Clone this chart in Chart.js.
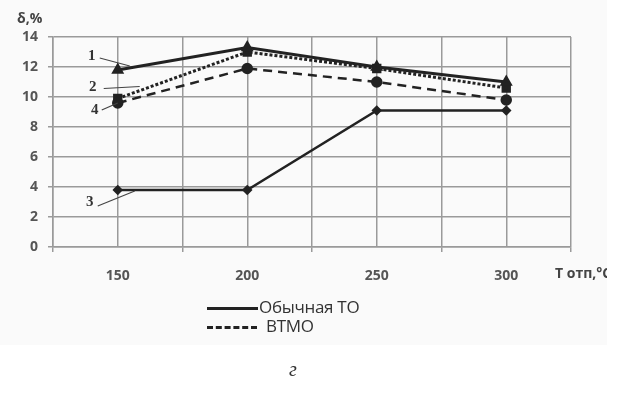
<!DOCTYPE html>
<html>
<head>
<meta charset="utf-8">
<script src="https://cdn.jsdelivr.net/npm/chart.js@4"></script>
<style>
  body { margin: 0; background: #fff; }
  #wrap { position: relative; width: 619px; height: 408px; overflow: hidden; }
  #bg { position: absolute; left: 0; top: 0; width: 607px; height: 345px; background: #fafafa; }
  canvas { position: absolute; left: 0; top: 0; }
  #cut { position: absolute; left: 607px; top: 0; width: 12px; height: 408px; background: #fff; }
  .leg { position: absolute; left: 207px; font-family: "Open Sans", sans-serif; font-size: 17px; color: #333; letter-spacing: -0.3px; line-height: 20px; }
  .leg span { display: inline-block; vertical-align: middle; width: 51px; margin-right: 1px; }
  #cap { position: absolute; left: 289px; top: 358px; font-family: "Liberation Serif", serif; font-style: italic; font-size: 20px; color: #333; }
</style>
</head>
<body>
<div id="wrap">
  <div id="bg"></div>
  <canvas id="myLineChart" width="619" height="408"></canvas>
  <div id="cut"></div>
  <div class="leg" style="top:297px"><span style="border-top:3px solid #222"></span>Обычная ТО</div>
  <div class="leg" style="top:316px"><span style="border-top:3px dashed #222;width:50px;margin-right:9px"></span>ВТМО</div>
  <div id="cap">г</div>
</div>
<script>
//---x-axis (temperature, °C)
var temps = [ 150, 200, 250, 300 ]

//---y-axis
var yTicks = [ 0, 2, 4, 6, 8, 10, 12, 14 ]

//---data (δ, %)
var curve1 = [ 11.8, 13.3, 12.0, 11.0 ]
var curve2 = [ 9.9, 13.0, 11.9, 10.6 ]
var curve3 = [ 3.8, 3.8, 9.1, 9.1 ]
var curve4 = [ 9.6, 11.9, 11.0, 9.8 ]

function pts(arr) {
  return temps.map(function (t, i) { return { x: t, y: arr[i] }; });
}

var ink = '#222';

// curve numbers with leader lines, anchored to the data through the scales
var curveLabels = {
  id: 'curveLabels',
  afterDatasetsDraw: function (chart) {
    var c = chart.ctx, xs = chart.scales.x, ys = chart.scales.y;
    var x150 = xs.getPixelForValue(150);
    var marks = [
      { t: '1', v: curve1[0], dx: -18, dy: -12, tx: -26, ty: -14, ex: 12, ey: -4 },
      { t: '2', v: curve2[0], dx: -14, dy: -10, tx: -25, ty: -11, ex: 22, ey: -12 },
      { t: '4', v: curve4[0], dx: -16, dy: 7, tx: -23, ty: 7, ex: 0, ey: 0 },
      { t: '3', v: curve3[0], dx: -20, dy: 16, tx: -28, ty: 12, ex: 17, ey: 1 }
    ];
    c.save();
    c.strokeStyle = '#444';
    c.lineWidth = 1.2;
    c.fillStyle = '#333';
    c.font = 'bold 15px "Liberation Serif", serif';
    c.textAlign = 'center';
    c.textBaseline = 'middle';
    marks.forEach(function (m) {
      var py = ys.getPixelForValue(m.v);
      c.beginPath();
      c.moveTo(x150 + m.dx, py + m.dy);
      c.lineTo(x150 + m.ex, py + m.ey);
      c.stroke();
      c.fillText(m.t, x150 + m.tx, py + m.ty);
    });
    // axis captions
    c.font = 'bold 14px "Open Sans", sans-serif';
    c.fillStyle = '#444';
    c.textAlign = 'left';
    c.fillText('δ,%', 17, 19);
    c.fillText('T отп,°C', 555, xs.bottom - 13);
    c.restore();
  }
};

var ctx = document.getElementById('myLineChart');

var data = {
  datasets: [{
    label: '1',
    data: pts(curve1),
    borderColor: ink, backgroundColor: ink,
    borderWidth: 3,
    pointStyle: 'triangle', pointRadius: 4.5
  }, {
    label: '2',
    data: pts(curve2),
    borderColor: ink, backgroundColor: ink,
    borderWidth: 3, borderDash: [3, 2],
    pointStyle: 'rect', pointRadius: 4.5
  }, {
    label: '3',
    data: pts(curve3),
    borderColor: ink, backgroundColor: ink,
    borderWidth: 2.5,
    pointStyle: 'rectRot', pointRadius: 3.5
  }, {
    label: '4',
    data: pts(curve4),
    borderColor: ink, backgroundColor: ink,
    borderWidth: 2.5, borderDash: [9, 6],
    pointStyle: 'circle', pointRadius: 4.5
  }]
};

var options = {
  responsive: false,
  animation: false,
  layout: { padding: { left: 0, top: 37, right: 48, bottom: 121 } },
  plugins: { legend: { display: false }, tooltip: { enabled: false } },
  elements: { line: { tension: 0 } },
  scales: {
    x: {
      type: 'linear',
      min: 125, max: 325,
      afterFit: function (s) { s.height = 40; },
      afterBuildTicks: function (s) {
        var t = [];
        for (var v = 125; v <= 325; v += 25) t.push({ value: v });
        s.ticks = t;
      },
      border: { color: '#9a9a9a', width: 1.5 },
      grid: {
        color: '#9a9a9a', lineWidth: 1.5, tickLength: 5,
        tickColor: function (c) { return temps.indexOf(c.tick.value) >= 0 ? 'rgba(0,0,0,0)' : '#9a9a9a'; }
      },
      ticks: {
        autoSkip: false, maxRotation: 0, padding: 16,
        color: '#555',
        font: { family: '"Open Sans", sans-serif', size: 14, weight: 'bold' },
        callback: function (v) { return temps.indexOf(v) >= 0 ? v : ''; }
      }
    },
    y: {
      min: 0, max: 14,
      afterFit: function (s) { s.width = 53; },
      afterBuildTicks: function (s) { s.ticks = yTicks.map(function (v) { return { value: v }; }); },
      border: { color: '#9a9a9a', width: 1.5 },
      grid: { color: '#9a9a9a', lineWidth: 1.5, tickLength: 5, tickColor: '#9a9a9a' },
      ticks: {
        padding: 10,
        color: '#555',
        font: { family: '"Open Sans", sans-serif', size: 14, weight: 'bold' }
      }
    }
  }
};

var myLineChart = new Chart(ctx, {
  type: 'line',
  data: data,
  options: options,
  plugins: [curveLabels]
});
</script>
</body>
</html>
